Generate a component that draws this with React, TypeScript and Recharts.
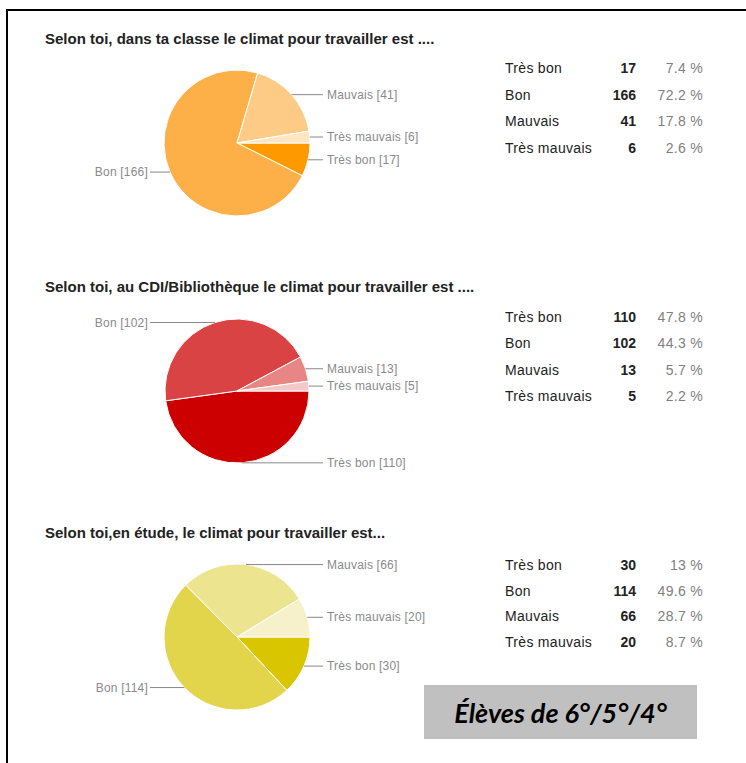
import { PieChart, Pie, Cell } from "recharts";

// categories shared by the three questions
const categories = ["Très bon", "Bon", "Mauvais", "Très mauvais"];

const classeValues = [17, 166, 41, 6];
const classePercents = ["7.4 %", "72.2 %", "17.8 %", "2.6 %"];
const classeColors = ["#FF9900", "#FDB048", "#FECB87", "#FFE6C2"];

const cdiValues = [110, 102, 13, 5];
const cdiPercents = ["47.8 %", "44.3 %", "5.7 %", "2.2 %"];
const cdiColors = ["#CC0000", "#DA4343", "#E88585", "#F5C8C8"];

const etudeValues = [30, 114, 66, 20];
const etudePercents = ["13 %", "49.6 %", "28.7 %", "8.7 %"];
const etudeColors = ["#DAC600", "#E2D54B", "#EDE48F", "#F6F1CB"];

const titles = [
  "Selon toi, dans ta classe le climat pour travailler est ....",
  "Selon toi, au CDI/Bibliothèque le climat pour travailler est ....",
  "Selon toi,en étude, le climat pour travailler est...",
];

const FONT = '"Liberation Sans", Arial, sans-serif';
const RADIAN = Math.PI / 180;

const renderLabel = (props: any) => {
  const { cx, cy, midAngle, outerRadius, name, value } = props;
  const cos = Math.cos(-midAngle * RADIAN);
  const sin = Math.sin(-midAngle * RADIAN);
  const sx = cx + outerRadius * cos;
  const sy = cy + outerRadius * sin;
  const right = cos >= 0;
  const ex = right ? cx + 86 : cx - 87;
  const tx = right ? cx + 90 : cx - 89;
  return (
    <g>
      <line x1={sx} y1={sy} x2={ex} y2={sy} stroke="#888" strokeWidth={1} />
      <text
        x={tx}
        y={sy}
        dy={4}
        textAnchor={right ? "start" : "end"}
        fill="#8a8a8a"
        fontSize={12}
        letterSpacing={0.2}
        fontFamily={FONT}
      >
        {`${name} [${value}]`}
      </text>
    </g>
  );
};

interface SectionProps {
  title: string;
  values: number[];
  percents: string[];
  colors: string[];
  titleTop: number;
  centerY: number;
  radius: number;
  tableTop: number;
  rowStep: number;
}

function Section({ title, values, percents, colors, titleTop, centerY, radius, tableTop, rowStep }: SectionProps) {
  const data = categories.map((name, i) => ({ name, value: values[i] }));
  return (
    <>
      <div style={{ position: "absolute", left: 0, top: centerY - 110 }}>
        {/* default chart margin is 5px, so centre is offset by it */}
        <PieChart width={480} height={220}>
          <Pie
            data={data}
            dataKey="value"
            nameKey="name"
            cx={232}
            cy={105}
            outerRadius={radius}
            startAngle={0}
            endAngle={-360}
            stroke="#fff"
            strokeWidth={1}
            label={renderLabel}
            labelLine={false}
            isAnimationActive={false}
          >
            {data.map((_, i) => (
              <Cell key={i} fill={colors[i]} />
            ))}
          </Pie>
        </PieChart>
      </div>
      <div
        style={{
          position: "absolute",
          left: 45,
          top: titleTop,
          fontFamily: FONT,
          fontSize: 15,
          fontWeight: "bold",
          color: "#222",
          whiteSpace: "nowrap",
        }}
      >
        {title}
      </div>
      {categories.map((cat, i) => (
        <div
          key={cat}
          style={{
            position: "absolute",
            left: 505,
            top: tableTop + i * rowStep,
            width: 200,
            height: 16,
            fontFamily: FONT,
            fontSize: 14,
            letterSpacing: 0.3,
            lineHeight: "16px",
          }}
        >
          <span style={{ position: "absolute", left: 0, color: "#222" }}>{cat}</span>
          <span style={{ position: "absolute", right: 69, fontWeight: "bold", letterSpacing: 0, color: "#222" }}>
            {values[i]}
          </span>
          <span style={{ position: "absolute", right: 2, color: "#808080" }}>{percents[i]}</span>
        </div>
      ))}
    </>
  );
}

export default function App() {
  return (
    <div
      style={{
        position: "absolute",
        left: 0,
        top: 0,
        width: 746,
        height: 763,
        overflow: "hidden",
        background: "#fff",
      }}
    >
      <div
        style={{
          position: "absolute",
          left: 6,
          top: 9,
          width: 900,
          height: 900,
          borderLeft: "2px solid #000",
          borderTop: "2px solid #000",
        }}
      />
      <Section
        title={titles[0]}
        values={classeValues}
        percents={classePercents}
        colors={classeColors}
        titleTop={30}
        centerY={143}
        radius={73}
        tableTop={60}
        rowStep={26.7}
      />
      <Section
        title={titles[1]}
        values={cdiValues}
        percents={cdiPercents}
        colors={cdiColors}
        titleTop={278}
        centerY={391}
        radius={72}
        tableTop={309}
        rowStep={26.3}
      />
      <Section
        title={titles[2]}
        values={etudeValues}
        percents={etudePercents}
        colors={etudeColors}
        titleTop={524}
        centerY={637}
        radius={73}
        tableTop={557}
        rowStep={25.6}
      />
      <div
        style={{
          position: "absolute",
          left: 424,
          top: 685,
          width: 273,
          height: 54,
          background: "#C0C0C0",
          display: "flex",
          alignItems: "center",
          justifyContent: "center",
          fontFamily: "Lato, 'Open Sans', sans-serif",
          fontStyle: "italic",
          fontWeight: "bold",
          fontSize: 27,
          color: "#000",
        }}
      >
        Élèves de 6°/5°/4°
      </div>
    </div>
  );
}
